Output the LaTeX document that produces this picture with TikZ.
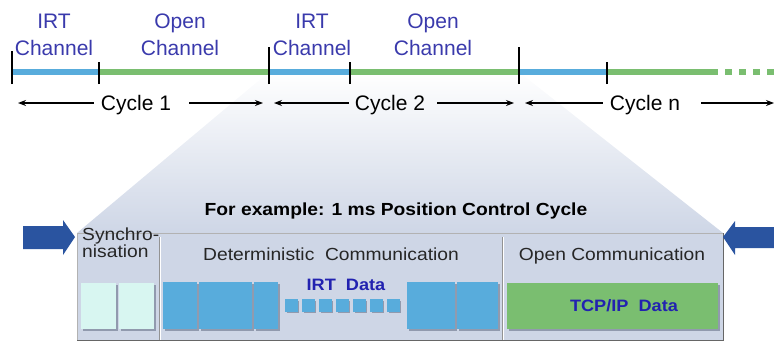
\documentclass[tikz,border=0pt]{standalone}
\usepackage{fontspec}
\setmainfont{Liberation Sans}
\newfontfamily\wfont{Liberation Sans}[FakeStretch=1.1]
\usetikzlibrary{arrows.meta,shadows}
\definecolor{irtblue}{RGB}{88,172,220}
\definecolor{opengreen}{RGB}{122,190,112}
\definecolor{lblblue}{RGB}{58,58,172}
\definecolor{datablue}{RGB}{34,34,176}
\definecolor{syncc}{RGB}{216,246,241}
\definecolor{boxc}{RGB}{206,214,230}
\definecolor{arrowc}{RGB}{42,84,160}
\definecolor{shadowc}{RGB}{130,140,160}
\tikzset{
  x=1pt, y=-1pt,
  seg/.style={line width=6pt},
  tick/.style={line width=2.5pt, black},
  chlabel/.style={align=center, inner sep=0pt, anchor=south, text=lblblue,
    font=\fontsize{21}{27}\selectfont},
  cyctext/.style={inner sep=0pt, anchor=base, font=\fontsize{21}{24}\selectfont},
  cycarrow/.style={line width=1.3pt, -{Stealth[length=8pt,width=6pt]}},
  blk/.style={draw=none, inner sep=0pt, anchor=north west,
    drop shadow={shadow xshift=1.5pt, shadow yshift=-1.5pt, fill=shadowc, opacity=0.8}},
  irtblk/.style={blk, fill=irtblue},
  syncblk/.style={blk, fill=syncc},
  btext/.style={inner sep=0pt, anchor=base, text=black!85, font=\wfont\fontsize{17.5}{17}\selectfont},
  bigarrow/.style={fill=arrowc, draw=none},
}
\begin{document}
\begin{tikzpicture}
\useasboundingbox (0,0) rectangle (774,343);
% shaded zoom region
\shade[top color=white, bottom color=boxc] (269,72) -- (519,72) -- (723,233) -- (77,233) -- cycle;
% frame box
\node[draw=gray!60, line width=0.8pt, fill=boxc, minimum width=646pt, minimum height=107pt,
  anchor=north west, inner sep=0pt] (frame) at (77,233) {};
\draw[gray!80!black, line width=1.2pt] (frame.north east) -- (frame.south east) -- (frame.south west);
\coordinate (d1t) at (159,237); \coordinate (d1b) at (159,340);
\coordinate (d2t) at (502,237); \coordinate (d2b) at (502,340);
\draw[gray!85, line width=1pt] (d1t) -- (d1b);
\draw[white, line width=0.8pt] ([xshift=1.2pt]d1t) -- ([xshift=1.2pt]d1b);
\draw[gray!85, line width=1pt] (d2t) -- (d2b);
\draw[white, line width=0.8pt] ([xshift=1.2pt]d2t) -- ([xshift=1.2pt]d2b);

% timeline coordinates
\coordinate (t0) at (12,72);
\coordinate (t1) at (99,72);
\coordinate (t2) at (269,72);
\coordinate (t3) at (350,72);
\coordinate (t4) at (519,72);
\coordinate (t5) at (607,72);
\coordinate (t6) at (718,72);
\coordinate (t7) at (774,72);
\draw[seg, irtblue] (t0) -- (t1);
\draw[seg, opengreen] (t1) -- (t2);
\draw[seg, irtblue] (t2) -- (t3);
\draw[seg, opengreen] (t3) -- (t4);
\draw[seg, irtblue] (t4) -- (t5);
\draw[seg, opengreen] (t5) -- (t6);
\draw[seg, opengreen, dash pattern=on 7pt off 7pt] ([xshift=7pt]t6) -- (t7);
% ticks
\draw[tick] ([yshift=-12pt]t0) -- ([yshift=21pt]t0);
\draw[tick] ([yshift=-12pt]t1) -- ([yshift=10pt]t1);
\draw[tick] ([yshift=-12pt]t2) -- ([yshift=25pt]t2);
\draw[tick] ([yshift=-12pt]t3) -- ([yshift=10pt]t3);
\draw[tick] ([yshift=-12pt]t4) -- ([yshift=25pt]t4);
\draw[tick] ([yshift=-12pt]t5) -- ([yshift=10pt]t5);

% channel labels
\node[chlabel] (l1) at (54,56) {IRT\\Channel};
\node[chlabel] (l2) at (180,56) {Open\\Channel};
\node[chlabel] (l3) at (312,56) {IRT\\Channel};
\node[chlabel] (l4) at (433,56) {Open\\Channel};

% cycles
\node[cyctext] (c1) at (136,110) {Cycle 1};
\node[cyctext] (c2) at (390,110) {Cycle 2};
\node[cyctext] (cn) at (645,110) {Cycle n};
\coordinate (a1l) at (18,103); \coordinate (a1r) at (263,103);
\coordinate (a2l) at (274,103); \coordinate (a2r) at (514,103);
\coordinate (a3l) at (525,103); \coordinate (a3r) at (774,103);
\draw[cycarrow] ([xshift=-7pt]c1.west |- a1l) -- (a1l);
\draw[cycarrow] ([xshift=18pt]c1.east |- a1r) -- (a1r);
\draw[cycarrow] ([xshift=-6pt]c2.west |- a2l) -- (a2l);
\draw[cycarrow] ([xshift=12pt]c2.east |- a2r) -- (a2r);
\draw[cycarrow] ([xshift=-7pt]cn.west |- a3l) -- (a3l);
\draw[cycarrow] ([xshift=21pt]cn.east |- a3r) -- (a3r);

% title
\node[btext, text=black, font=\wfont\bfseries\fontsize{17.5}{20}\selectfont] (title) at (396,215) {For example: 1 ms Position Control Cycle};

% big arrows
\coordinate (la) at (75,237);
\coordinate (ra) at (723,237);
\fill[bigarrow] (23,226) -- (63,226) -- (63,220) -- (la) -- (63,255) -- (63,249) -- (23,249) -- cycle;
\fill[bigarrow] (774,227) -- (735,227) -- (735,221) -- (ra) -- (735,255) -- (735,248) -- (774,248) -- cycle;

% section headings
\node[btext, align=left, anchor=base west] (sync) at (82,257) {Synchro-\\nisation};
\node[btext] (det) at (331,260) {Deterministic\ \ Communication};
\node[btext] (open) at (612,260) {Open Communication};

% sync blocks
\node[syncblk, minimum width=35pt, minimum height=46pt] (s1) at (81,283) {};
\node[syncblk, minimum width=35pt, minimum height=46pt] (s2) at (119,283) {};

% IRT blocks
\node[irtblk, minimum width=34pt, minimum height=47pt] (b1) at (163,282) {};
\node[irtblk, minimum width=53pt, minimum height=47pt] (b2) at (199,282) {};
\node[irtblk, minimum width=24pt, minimum height=47pt] (b3) at (254,282) {};
\foreach \i in {0,...,6} {
  \node[irtblk, minimum width=12.5pt, minimum height=12.5pt] (q\i) at ({285+\i*17},299) {};
}
\node[irtblk, minimum width=48pt, minimum height=47pt] (b4) at (407,282) {};
\node[irtblk, minimum width=41pt, minimum height=47pt] (b5) at (457,282) {};
\node[btext, text=datablue, font=\wfont\bfseries\fontsize{16.5}{18}\selectfont] (irtd) at (346,290) {IRT\ \ Data};

% TCP/IP block
\node[blk, fill=opengreen, minimum width=211pt, minimum height=46pt] (tcp) at (507,283) {};
\node[btext, text=datablue, font=\wfont\bfseries\fontsize{16.5}{18}\selectfont] (tcpd) at (624,311) {TCP/IP\ \ Data};
\end{tikzpicture}
\end{document}
